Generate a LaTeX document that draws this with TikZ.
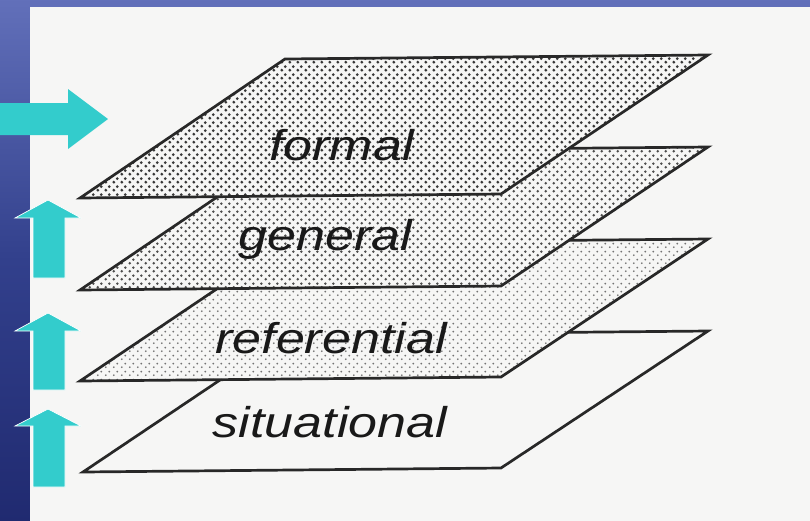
\documentclass[tikz,border=0pt]{standalone}
\usepackage{fontspec}
\newfontfamily\lab[FakeStretch=1.21]{Liberation Sans}
\usetikzlibrary{patterns}
\definecolor{bluetop}{RGB}{98,112,186}
\definecolor{bluemid}{RGB}{50,64,140}
\definecolor{bluebot}{RGB}{32,42,112}
\definecolor{paper}{RGB}{246,246,245}
\definecolor{arrowcyan}{RGB}{51,204,204}
\definecolor{inkline}{RGB}{40,40,40}
\pgfdeclarepatternformonly{halftoneA}{\pgfqpoint{0pt}{0pt}}{\pgfqpoint{8pt}{8pt}}{\pgfqpoint{8pt}{8pt}}{%
  \pgfpathcircle{\pgfqpoint{2pt}{2pt}}{1.7pt}%
  \pgfpathcircle{\pgfqpoint{6pt}{6pt}}{1.7pt}%
  \pgfusepath{fill}}
\pgfdeclarepatternformonly{halftoneB}{\pgfqpoint{0pt}{0pt}}{\pgfqpoint{8pt}{8pt}}{\pgfqpoint{8pt}{8pt}}{%
  \pgfpathcircle{\pgfqpoint{2pt}{2pt}}{1.5pt}%
  \pgfpathcircle{\pgfqpoint{6pt}{6pt}}{1.5pt}%
  \pgfusepath{fill}}
\pgfdeclarepatternformonly{halftoneC}{\pgfqpoint{0pt}{0pt}}{\pgfqpoint{8pt}{8pt}}{\pgfqpoint{8pt}{8pt}}{%
  \pgfpathcircle{\pgfqpoint{2pt}{2pt}}{1.1pt}%
  \pgfpathcircle{\pgfqpoint{6pt}{6pt}}{1.1pt}%
  \pgfusepath{fill}}
\begin{document}
\begin{tikzpicture}[x=1pt,y=-1pt,
  plane/.style={draw=inkline, line width=2.7pt, line join=miter, preaction={fill=paper}},
  lbl/.style={anchor=base, inner sep=0pt, text=black!90, font=\lab\itshape\fontsize{43}{43}\selectfont},
  cyanarrow/.style={fill=arrowcyan, draw=white, line width=0.7pt}]
\useasboundingbox (0,0) rectangle (810,520);
% background
\shade[top color=bluetop, bottom color=bluebot, middle color=bluemid] (-2,-2) rectangle (812,522);
\fill[paper] (30,7) rectangle (815,525);
% planes, bottom to top
\draw[plane] (83,472) -- (501,468) -- (708,331) -- (287,335) -- cycle;
\draw[plane, pattern=halftoneC, pattern color=black!55] (80,381) -- (501,377) -- (708,239) -- (285,243) -- cycle;
\draw[plane, pattern=halftoneB, pattern color=black!70] (80,290) -- (501,286) -- (708,147) -- (285,151) -- cycle;
\draw[plane, pattern=halftoneA, pattern color=black!78] (80,198) -- (501,194) -- (708,55) -- (285,59) -- cycle;
% labels
\node[lbl] (formal) at (341.5,160) {formal};
\node[lbl] (general) at (325.5,250) {general};
\node[lbl] (referential) at (331,353) {referential};
\node[lbl] (situational) at (330,437) {situational};
% arrows
\fill[arrowcyan] (-2,103) -- (68,103) -- (68,89) -- (108,119) -- (68,149) -- (68,135) -- (-2,135) -- cycle;
\draw[cyanarrow] (33,278) -- (33,218) -- (15,218) -- (48,200) -- (81,218) -- (65,218) -- (65,278) -- cycle;
\draw[cyanarrow] (33,390) -- (33,331) -- (15,331) -- (48,313) -- (81,331) -- (65,331) -- (65,390) -- cycle;
\draw[cyanarrow] (33,487) -- (33,426) -- (15,426) -- (48,409) -- (81,426) -- (65,426) -- (65,487) -- cycle;
\end{tikzpicture}
\end{document}
